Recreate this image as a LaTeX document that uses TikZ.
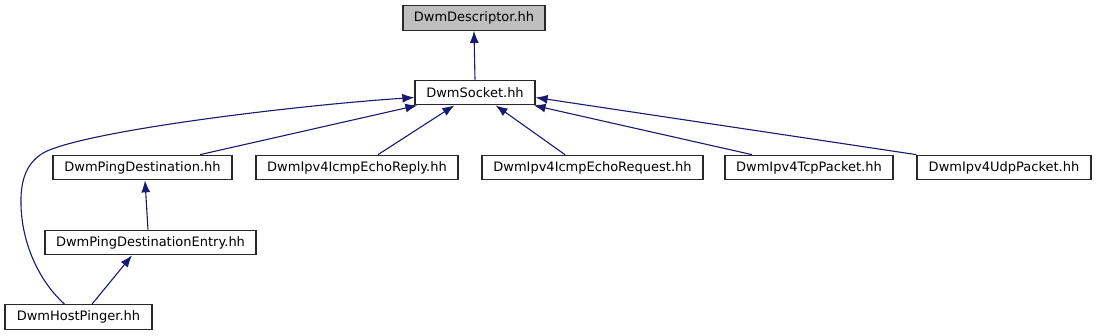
\documentclass[tikz,border=0pt]{standalone}
\usepackage{fontspec}
\setmainfont{DejaVu Sans}
\usetikzlibrary{arrows.meta}
\definecolor{edgeblue}{RGB}{25,25,112}
\definecolor{boxgray}{RGB}{191,191,191}
\definecolor{boxline}{RGB}{40,40,40}
\begin{document}
\begin{tikzpicture}[x=1pt,y=-1pt,
  box/.style={draw=boxline,line width=1.2pt,fill=white,inner sep=0pt,minimum height=24.5pt,font=\fontsize{13}{15}\selectfont},
  edge/.style={draw=edgeblue,line width=1.1pt,-{Latex[length=12pt,width=9pt]}}]
\useasboundingbox (0,0) rectangle (1096,336);
\node[box,fill=boxgray,minimum width=142pt] (desc) at (474,18) {DwmDescriptor.hh};
\node[box,minimum width=120pt] (sock) at (475,92.5) {DwmSocket.hh};
\node[box,minimum width=179pt] (pd) at (142.5,167.5) {DwmPingDestination.hh};
\node[box,minimum width=202pt] (er) at (357,167.5) {DwmIpv4IcmpEchoReply.hh};
\node[box,minimum width=221pt] (ereq) at (592.5,167.5) {DwmIpv4IcmpEchoRequest.hh};
\node[box,minimum width=168pt] (tcp) at (809,167.5) {DwmIpv4TcpPacket.hh};
\node[box,minimum width=174pt] (udp) at (1004,167.5) {DwmIpv4UdpPacket.hh};
\node[box,minimum width=211pt] (pde) at (150.5,242.5) {DwmPingDestinationEntry.hh};
\node[box,minimum width=147pt] (hp) at (78.5,317) {DwmHostPinger.hh};

\draw[edge] (sock.north) -- (desc.south);
\draw[edge] ([xshift=-14pt]hp.north) .. controls (40,282) and (22,245) .. (21,205)
  .. controls (20,175) and (30,160) .. (45,152)
  .. controls (90,130) and (300,105) .. ([yshift=-5pt]sock.west);
\draw[edge] ([xshift=57.5pt]pd.north) -- ([xshift=3pt]sock.south west);
\draw[edge] ([xshift=21pt]er.north) -- ([xshift=40pt]sock.south west);
\draw[edge] ([xshift=-27.5pt]ereq.north) -- ([xshift=-40pt]sock.south east);
\draw[edge] ([xshift=-57pt]tcp.north) -- ([xshift=-2pt]sock.south east);
\draw[edge] (udp.north west) -- ([yshift=-5pt]sock.east);
\draw[edge] ([xshift=-2.5pt]pde.north) -- ([xshift=2.5pt]pd.south);
\draw[edge] ([xshift=13.5pt]hp.north) -- ([xshift=-18.5pt]pde.south);
\end{tikzpicture}
\end{document}
